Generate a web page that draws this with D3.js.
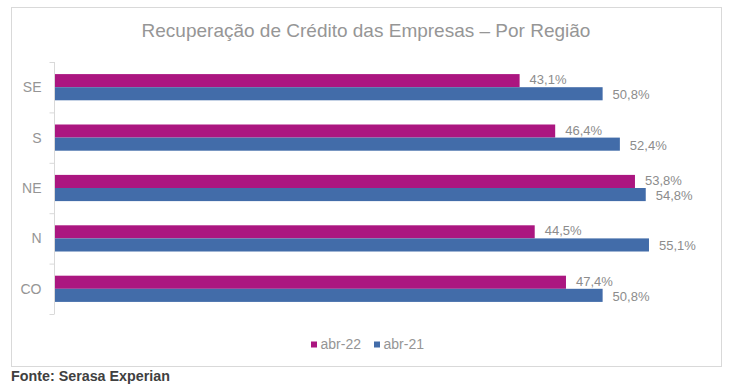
<!DOCTYPE html>
<meta charset="utf-8">
<style>
  body { margin: 0; background: #fff; font-family: "Liberation Sans", Arial, sans-serif; }
  .axis path, .axis line { stroke: #d9d9d9; }
  .axis text { fill: #959595; font-size: 14px; }
  .val { fill: #8c8c8c; font-size: 13px; }
</style>
<body></body>
<script src="https://d3js.org/d3.v7.min.js"></script>
<script>
// data
var regions = ["SE", "S", "NE", "N", "CO"];
var seriesNames = ["abr-22", "abr-21"];
var abr22 = [43.1, 46.4, 53.8, 44.5, 47.4];
var abr21 = [50.8, 52.4, 54.8, 55.1, 50.8];
var colors = ["#AB1680", "#426CA9"];

var W = 729, H = 387;

var svg = d3.select("body").append("svg")
    .attr("width", W)
    .attr("height", H);

// chart frame
svg.append("rect")
    .attr("x", 11.5).attr("y", 7.5)
    .attr("width", 710).attr("height", 359)
    .attr("fill", "none")
    .attr("stroke", "#d9d9d9");

svg.append("text")
    .attr("x", 366).attr("y", 37)
    .attr("text-anchor", "middle")
    .attr("fill", "#969696")
    .style("font-size", "19px")
    .text("Recuperação de Crédito das Empresas – Por Região");

var x = d3.scaleLinear().domain([0, 10]).range([55, 162.8]);

var y = d3.scaleBand().domain(regions).range([62, 314]).paddingInner(0.48).paddingOuter(0.24);

var ySub = d3.scaleBand().domain(seriesNames).range([0, y.bandwidth()]);

var rows = regions.map(function(r, i) {
  return {region: r, values: [abr22[i], abr21[i]]};
});

var yaxis = d3.axisLeft(d3.scaleBand().domain(regions).range([62, 314]))
    .tickSize(0).tickPadding(13);

var ag = svg.append("g")
    .attr("class", "axis")
    .attr("transform", "translate(54.5,0)")
    .call(yaxis);
ag.select(".domain").remove();
ag.append("line").attr("x1", 0).attr("x2", 0).attr("y1", 62).attr("y2", 314).attr("stroke", "#d9d9d9");
// category boundary ticks
ag.selectAll(".bound")
    .data(d3.range(regions.length + 1))
    .enter().append("line")
    .attr("x1", -5).attr("x2", 0)
    .attr("y1", function(i) { return 62 + i * (252 / regions.length) + 0.5; })
    .attr("y2", function(i) { return 62 + i * (252 / regions.length) + 0.5; })
    .attr("stroke", "#d9d9d9");
ag.selectAll("text").attr("dy", "0.35em");

var grp = svg.selectAll("g.row")
    .data(rows)
    .enter().append("g")
    .attr("class", "row")
    .attr("transform", function(d) { return "translate(0," + y(d.region) + ")"; });

seriesNames.forEach(function(s, k) {
  grp.append("rect")
      .attr("x", x(0))
      .attr("y", ySub(s))
      .attr("width", function(d) { return x(d.values[k]) - x(0); })
      .attr("height", ySub.bandwidth())
      .attr("fill", colors[k]);

  grp.append("text")
      .attr("class", "val")
      .attr("x", function(d) { return x(d.values[k]) + 10; })
      .attr("y", ySub(s) + ySub.bandwidth() / 2 + (k === 0 ? -1 : 1))
      .attr("dy", "0.35em")
      .text(function(d) { return d3.format(".1f")(d.values[k]).replace(".", ",") + "%"; });
});

// legend
var legendX = [311, 374];
var lg = svg.selectAll("g.leg")
    .data(seriesNames)
    .enter().append("g")
    .attr("class", "leg")
    .attr("transform", function(d, i) { return "translate(" + legendX[i] + ",341.5)"; });
lg.append("rect").attr("width", 6).attr("height", 6).attr("fill", function(d, i) { return colors[i]; });
lg.append("text")
    .attr("x", 9.5).attr("y", 3).attr("dy", "0.35em")
    .attr("fill", "#959595")
    .style("font-size", "14px")
    .text(function(d) { return d; });

svg.append("text")
    .attr("x", 11).attr("y", 381)
    .attr("fill", "#404040")
    .style("font-size", "14.3px")
    .style("font-weight", "bold")
    .text("Fonte: Serasa Experian");
</script>
